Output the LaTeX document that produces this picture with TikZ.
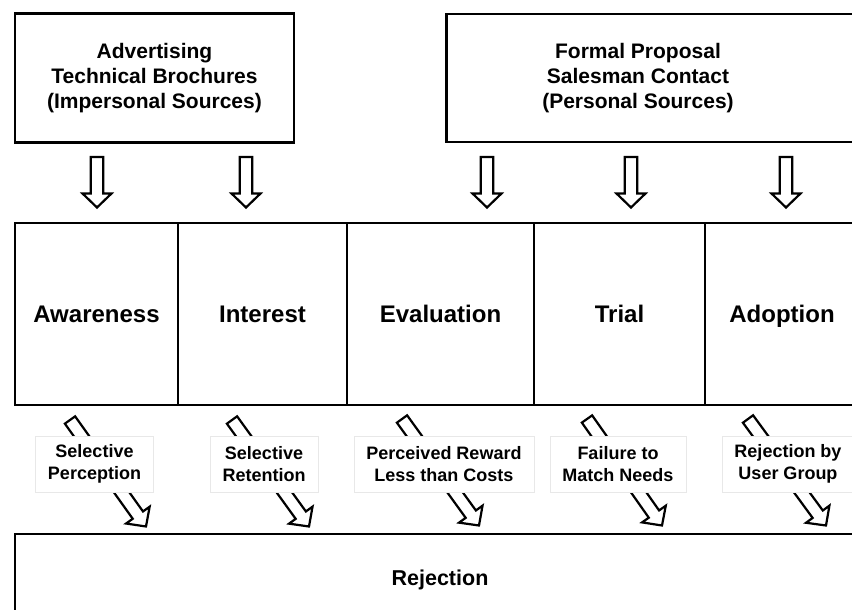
\documentclass[tikz,border=0pt]{standalone}
\usepackage{fontspec}
\setmainfont{Liberation Sans}
\usetikzlibrary{calc}
\tikzset{
  box/.style={draw=black, line width=2.8pt, fill=white, align=center, inner sep=0pt},
  toptxt/.style={align=center, inner sep=0pt, font=\fontsize{21}{25}\selectfont\bfseries},
  stage/.style={box, font=\fontsize{24}{28}\selectfont\bfseries, minimum height=182pt, text height=17pt, text depth=0pt},
  lbl/.style={draw=black!9, line width=0.7pt, fill=white, align=center,
    font=\fontsize{18}{22}\selectfont\bfseries, inner xsep=12.5pt, inner ysep=0pt, minimum height=56pt},
  blk/.style={draw=black, line width=2.2pt, fill=white, line join=miter},
}
\newcommand\blockarrow[2]{%
  \draw[blk] let \p1=(#1), \p2=(#2), \n1={atan2(\y2-\y1,\x2-\x1)}, \n2={veclen(\x2-\x1,\y2-\y1)} in
  [shift={(\p1)}, rotate=\n1] (0,-6.3) -- ({\n2-14},-6.3) -- ({\n2-14},-14.5) -- (\n2,0)
  -- ({\n2-14},14.5) -- ({\n2-14},6.3) -- (0,6.3) -- cycle;}
\begin{document}
\begin{tikzpicture}[x=1pt,y=-1pt]
\useasboundingbox (0,0) rectangle (852,610);
\clip (0,0) rectangle (852,610);
\fill[white] (0,0) rectangle (852,610);

% top boxes
\node[box, toptxt, minimum width=279pt, minimum height=129pt] (impersonal) at (154.5,78)
  {Advertising\\Technical Brochures\\(Impersonal Sources)};
\node[box, minimum width=425pt, minimum height=128pt, anchor=west] (personal) at (445,78) {};
\node[toptxt] (personaltxt) at (638,78) {Formal Proposal\\Salesman Contact\\(Personal Sources)};

% stages
\node[stage, minimum width=163pt] (aware) at (96.5,314) {Awareness};
\node[stage, minimum width=169pt] (interest) at (262.5,314) {Interest};
\node[stage, minimum width=187pt] (eval) at (440.5,314) {Evaluation};
\node[stage, minimum width=171pt] (trial) at (619.5,314) {Trial};
\node[stage, minimum width=154pt] (adopt) at (782,314) {Adoption};

% rejection
\node[box, minimum width=850pt, minimum height=88pt, text height=15.5pt, text depth=0pt,
  font=\fontsize{21.5}{26}\selectfont\bfseries] (reject) at (440,578) {Rejection};

% down arrows
\coordinate (d1s) at (97,157);  \coordinate (d1e) at (97,207.5);
\coordinate (d2s) at (246,157); \coordinate (d2e) at (246,207.5);
\coordinate (d3s) at (487,157); \coordinate (d3e) at (487,207.5);
\coordinate (d4s) at (631,157); \coordinate (d4e) at (631,207.5);
\coordinate (d5s) at (786,157); \coordinate (d5e) at (786,207.5);
\foreach \i in {1,...,5} {\blockarrow{d\i s}{d\i e}}

% diagonal arrows
\coordinate (r1s) at (70,420);  \coordinate (r1e) at (146,526.5);
\coordinate (r2s) at (232,420); \coordinate (r2e) at (309,526.5);
\coordinate (r3s) at (402,419); \coordinate (r3e) at (479,525.5);
\coordinate (r4s) at (587,419); \coordinate (r4e) at (662,525.5);
\coordinate (r5s) at (748,419); \coordinate (r5e) at (826,525.5);
\foreach \i in {1,...,5} {\blockarrow{r\i s}{r\i e}}

% labels
\node[lbl] (l1) at (94.5,464) {Selective\\Perception};
\node[lbl] (l2) at (264,464) {Selective\\Retention};
\node[lbl] (l3) at (444,464) {Perceived Reward\\Less than Costs};
\node[lbl] (l4) at (618,464) {Failure to\\Match Needs};
\node[lbl] (l5) at (788,464) {Rejection by\\User Group};
\end{tikzpicture}
\end{document}
